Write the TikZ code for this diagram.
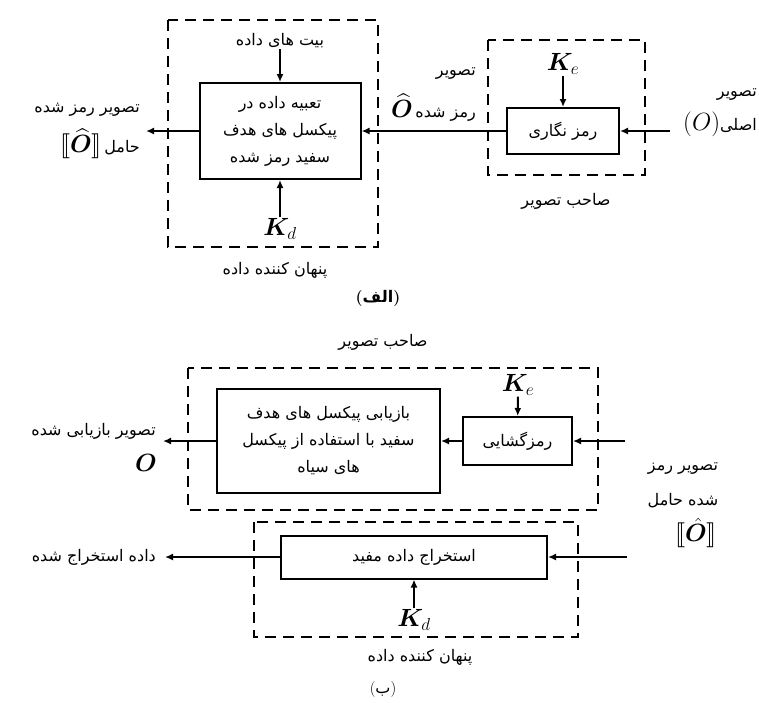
\documentclass[tikz,border=0pt]{standalone}
\usepackage{amsmath,amssymb,bm}
\usepackage{stmaryrd}
\usepackage{fontspec}
\usepackage{tikz}
\usetikzlibrary{arrows.meta}
\newfontfamily\persianfont[Script=Arabic]{DejaVu Sans}
\TeXXeTstate=1
\newcommand{\fatxt}[1]{{\persianfont\beginR #1\endR}}
\newcommand{\fasize}{\fontsize{16}{27}\selectfont}
\newcommand{\mathsize}{\fontsize{23}{25}\selectfont}

\begin{document}
\begin{tikzpicture}[x=1pt,y=-1pt,
  boite/.style={draw, line width=2pt, align=center, inner sep=1pt, font=\fasize},
  cadre/.style={draw, line width=2.4pt, dash pattern=on 11pt off 7pt},
  fleche/.style={line width=2pt, -{Latex[length=8pt,width=7pt]}},
  texte/.style={font=\fasize, inner sep=1pt, align=center},
  cle/.style={font=\mathsize, inner sep=1pt}]
\useasboundingbox (0,0) rectangle (759,702);

% (الف) : cacheur de données et propriétaire de l'image
\draw[cadre] (168,20) rectangle (378,247);
\draw[cadre] (488,40) rectangle (645,175);
\node[boite, minimum width=161pt, minimum height=96pt] (tabie) at (280,131)
  {\fatxt{تعبیه داده در}\\\fatxt{پیکسل های هدف}\\\fatxt{سفید رمز شده}};
\node[boite, minimum width=112pt, minimum height=46pt] (ramz) at (563,131) {\fatxt{رمز نگاری}};
\node[texte] (bits) at (280,41) {\fatxt{بیت های داده}};
\node[cle] (kd1) at (280,229) {$\boldsymbol{K}_d$};
\node[cle] (ke1) at (563,64) {$\boldsymbol{K}_e$};
\coordinate (in1) at (670,131);
\coordinate (out1) at (146,131);
\draw[fleche] (bits) -- (tabie);
\draw[fleche] (kd1) -- (tabie);
\draw[fleche] (ke1) -- (ramz);
\draw[fleche] (in1) -- (ramz);
\draw[fleche] (ramz) -- (tabie);
\draw[fleche] (tabie) -- (out1);
\node[texte, anchor=east] (sortie1a) at (141,110) {\fatxt{تصویر رمز شده}};
\node[texte, anchor=east] (sortie1b) at (141,144) {{\mathsize$\llbracket\widehat{\boldsymbol{O}}\rrbracket$}\,\fatxt{حامل}};
\node[texte, anchor=east] (milieu1a) at (477,74) {\fatxt{تصویر}};
\node[texte, anchor=east] (milieu1b) at (477,108) {{\mathsize$\widehat{\boldsymbol{O}}$}\,\fatxt{رمز شده}};
\node[texte, anchor=east] (entree1a) at (758,95) {\fatxt{تصویر}};
\node[texte, anchor=east] (entree1b) at (758,124) {{\mathsize$(O)$}\fatxt{اصلی}};
\node[texte] (proprio1) at (566,201) {\fatxt{صاحب تصویر}};
\node[texte] (cacheur1) at (275,270) {\fatxt{پنهان کننده داده}};
\node[texte, font=\fasize\bfseries] (legende1) at (378,298) {(\fatxt{الف})};

% (ب) : extraction et récupération
\node[texte] (proprio2) at (383,342) {\fatxt{صاحب تصویر}};
\draw[cadre] (188,368) rectangle (598,510);
\draw[cadre] (254,522) rectangle (578,637);
\node[boite, minimum width=223pt, minimum height=104pt] (bazyabi) at (328.5,441)
  {\fatxt{بازیابی پیکسل های هدف}\\\fatxt{سفید با استفاده از پیکسل}\\\fatxt{های سیاه}};
\node[boite, minimum width=109pt, minimum height=48pt] (goshai) at (517.5,441) {\fatxt{رمزگشایی}};
\node[boite, minimum width=266pt, minimum height=43pt] (estekhraj) at (414,557) {\fatxt{استخراج داده مفید}};
\node[cle] (ke2) at (518,385) {$\boldsymbol{K}_e$};
\node[cle] (kd2) at (414,620) {$\boldsymbol{K}_d$};
\coordinate (in2) at (625,441);
\coordinate (out2) at (163,441);
\coordinate (in3) at (627,557);
\coordinate (out3) at (165,557);
\draw[fleche] (ke2) -- (goshai);
\draw[fleche] (in2) -- (goshai);
\draw[fleche] (goshai) -- (bazyabi);
\draw[fleche] (bazyabi) -- (out2);
\draw[fleche] (in3) -- (estekhraj);
\draw[fleche] (estekhraj) -- (out3);
\draw[fleche] (kd2) -- (estekhraj);
\node[texte, anchor=east] (sortie2a) at (157,431) {\fatxt{تصویر بازیابی شده}};
\node[cle] (sortie2b) at (146,463) {$\boldsymbol{O}$};
\node[texte] (entree2a) at (683,469) {\fatxt{تصویر رمز}};
\node[texte] (entree2b) at (683,501) {\fatxt{شده حامل}};
\node[cle] (entree2c) at (696,533) {$\llbracket\hat{\boldsymbol{O}}\rrbracket$};
\node[texte, anchor=east] (sortie3) at (157,557) {\fatxt{داده استخراج شده}};
\node[texte] (cacheur2) at (420,657) {\fatxt{پنهان کننده داده}};
\node[texte] (legende2) at (383,689) {(\fatxt{ب})};
\end{tikzpicture}
\end{document}
